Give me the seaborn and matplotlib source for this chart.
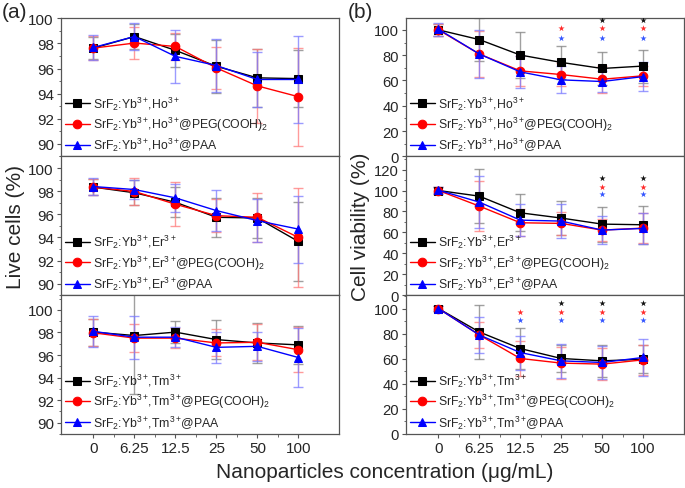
import numpy as np
import pandas as pd
import matplotlib
matplotlib.use("Agg")
import matplotlib.pyplot as plt
import seaborn as sns
from matplotlib.ticker import MultipleLocator, FixedLocator

# ---------------- data ----------------
conc_labels = ['0', '6.25', '12.5', '25', '50', '100']

# Panel (a): live cells (%)
a_ho_bare = [97.63, 98.55, 97.45, 96.18, 95.26, 95.20]
a_ho_bare_err = [0.9, 1.0, 1.3, 2.1, 2.3, 2.3]
a_ho_peg = [97.63, 98.03, 97.76, 96.05, 94.62, 93.76]
a_ho_peg_err = [0.95, 1.27, 1.1, 1.65, 2.95, 3.9]
a_ho_paa = [97.68, 98.55, 96.97, 96.24, 95.13, 95.13]
a_ho_paa_err = [1.0, 1.05, 2.1, 2.1, 2.2, 3.45]

a_er_bare = [98.35, 97.86, 97.04, 95.74, 95.68, 93.65]
a_er_bare_err = [0.7, 1.1, 1.3, 1.7, 1.75, 3.45]
a_er_peg = [98.35, 97.97, 96.87, 95.88, 95.74, 94.00]
a_er_peg_err = [0.7, 1.2, 1.9, 1.45, 2.1, 4.3]
a_er_paa = [98.40, 98.14, 97.42, 96.32, 95.45, 94.72]
a_er_paa_err = [0.7, 0.8, 1.2, 1.75, 1.85, 2.9]

a_tm_bare = [98.03, 97.73, 98.03, 97.37, 97.07, 96.90]
a_tm_bare_err = [1.2, 5.2, 1.0, 1.7, 1.77, 1.7]
a_tm_peg = [97.97, 97.50, 97.50, 97.07, 97.13, 96.47]
a_tm_peg_err = [1.2, 1.25, 0.9, 1.2, 1.58, 2.0]
a_tm_paa = [98.10, 97.58, 97.58, 96.68, 96.77, 95.78]
a_tm_paa_err = [1.38, 1.9, 0.9, 1.35, 1.3, 2.6]

# Panel (b): cell viability (%)
b_ho_bare = [100.0, 92.3, 80.1, 74.3, 69.5, 71.4]
b_ho_bare_err = [5, 17, 18, 13.2, 12.7, 13]
b_ho_peg = [100.0, 80.9, 67.6, 64.7, 61.0, 63.7]
b_ho_peg_err = [4.5, 18, 12, 9, 10.6, 8]
b_ho_paa = [100.5, 80.9, 66.8, 60.5, 59.2, 63.1]
b_ho_paa_err = [5, 19, 12.4, 10.6, 8, 11.4]

b_er_bare = [100.0, 94.6, 78.7, 73.7, 67.9, 67.3]
b_er_bare_err = [3, 26, 17.5, 16.5, 16.7, 18]
b_er_peg = [100.0, 85.1, 69.2, 68.6, 62.2, 64.1]
b_er_peg_err = [3, 23.5, 13, 11, 10.8, 14]
b_er_paa = [100.3, 88.9, 71.7, 70.8, 62.2, 63.8]
b_er_paa_err = [3, 24.5, 15, 16.3, 13.4, 15]

b_tm_bare = [100.0, 81.3, 68.1, 60.2, 58.3, 59.6]
b_tm_bare_err = [2, 21.3, 16, 10.5, 12.8, 11]
b_tm_peg = [100.0, 78.9, 60.2, 56.5, 55.7, 59.1]
b_tm_peg_err = [2, 10, 14, 13, 13, 12]
b_tm_paa = [100.0, 78.9, 64.9, 58.3, 57.0, 61.0]
b_tm_paa_err = [2, 14, 13.5, 13.5, 13.3, 14.5]

# significance stars (category indices)
ho_star_bare = [4, 5]
ho_star_peg = [3, 4, 5]
ho_star_paa = [3, 4, 5]
er_star_bare = [4, 5]
er_star_peg = [4, 5]
er_star_paa = [4, 5]
tm_star_bare = [3, 4, 5]
tm_star_peg = [2, 3, 4, 5]
tm_star_paa = [2, 3, 4, 5]

ions = ['Ho', 'Er', 'Tm']

# ---------------- style ----------------
sns.set_style('ticks')
plt.rcParams['font.family'] = ['Liberation Sans', 'DejaVu Sans']
plt.rcParams['mathtext.default'] = 'regular'
plt.rcParams['axes.edgecolor'] = '#555555'
plt.rcParams['axes.linewidth'] = 0.9

fig = plt.figure(figsize=(6.85, 4.89), dpi=100)

x = np.arange(len(conc_labels))
colors = ['#000000', '#ff0000', '#0000ff']
err_colors = ['#808080', '#ff7a7a', '#7a7aff']
markers = ['s', 'o', '^']

top, bottom = 1 - 18.7 / 489, 1 - 435 / 489
h = (top - bottom) / 3
left_a, width_a = 60.7 / 685, (339.3 - 60.7) / 685
left_b, width_b = 405.7 / 685, (684 - 405.7) / 685

panel_a = [
    (a_ho_bare, a_ho_bare_err, a_ho_peg, a_ho_peg_err, a_ho_paa, a_ho_paa_err),
    (a_er_bare, a_er_bare_err, a_er_peg, a_er_peg_err, a_er_paa, a_er_paa_err),
    (a_tm_bare, a_tm_bare_err, a_tm_peg, a_tm_peg_err, a_tm_paa, a_tm_paa_err),
]
panel_b = [
    (b_ho_bare, b_ho_bare_err, b_ho_peg, b_ho_peg_err, b_ho_paa, b_ho_paa_err),
    (b_er_bare, b_er_bare_err, b_er_peg, b_er_peg_err, b_er_paa, b_er_paa_err),
    (b_tm_bare, b_tm_bare_err, b_tm_peg, b_tm_peg_err, b_tm_paa, b_tm_paa_err),
]
stars = [
    (ho_star_bare, ho_star_peg, ho_star_paa),
    (er_star_bare, er_star_peg, er_star_paa),
    (tm_star_bare, tm_star_peg, tm_star_paa),
]
star_y = [(107.4, 101.3, 93.6), (112, 103.5, 96.2), (104.8, 97.3, 90.7)]
ylims_a = [(89, 100.05), (89, 101.0), (89, 101.3)]
ylims_b = [(0, 109.6), (0, 132.5), (0, 110.6)]
star_colors = ['#111111', '#ff2a2a', '#3355ff']


def labels_for(ion):
    base = r'SrF$_2$:Yb$^{3+}\!$,' + ion + r'$^{3+}\!$'
    return [base, base + r'@PEG(COOH)$_2$', base + '@PAA']


def draw(ax, series, ion, ylim, tick_size):
    vals = [series[0], series[2], series[4]]
    errs = [series[1], series[3], series[5]]
    labs = labels_for(ion)
    for v, e, c, ec in zip(vals, errs, colors, err_colors):
        ax.errorbar(x, v, yerr=e, fmt='none', ecolor=ec, elinewidth=1.0,
                    capsize=3.5, capthick=1.0, alpha=0.75, zorder=1)
    for v, c, m, lab in zip(vals, colors, markers, labs):
        df = pd.DataFrame({'x': x, 'y': v})
        sns.lineplot(data=df, x='x', y='y', ax=ax, color=c, marker=m,
                     markersize=6.2, markeredgecolor=c, linewidth=1.0,
                     label=lab, zorder=3)
    ax.set_xlim(-0.8, 6.0)
    ax.set_ylim(*ylim)
    ax.set_xlabel('')
    ax.set_ylabel('')
    ax.legend(loc='lower left', bbox_to_anchor=(-0.01, -0.03),
              frameon=False, fontsize=8.8, handlelength=2.0,
              handletextpad=0.3, labelspacing=0.25, borderaxespad=0.2)
    ax.xaxis.set_major_locator(FixedLocator(x))
    ax.xaxis.set_minor_locator(FixedLocator(x[:-1] + 0.5))
    ax.tick_params(axis='both', which='major', labelsize=tick_size, length=3,
                   width=0.8, color='#555555', pad=2)
    ax.tick_params(axis='x', which='major', labelsize=11)
    ax.tick_params(axis='both', which='minor', length=1.8, width=0.6,
                   color='#555555')


axes_a, axes_b = [], []
for i in range(3):
    ax = fig.add_axes([left_a, top - (i + 1) * h, width_a, h])
    draw(ax, panel_a[i], ions[i], ylims_a[i], 11)
    ax.yaxis.set_major_locator(MultipleLocator(2))
    ax.yaxis.set_minor_locator(MultipleLocator(1))
    axes_a.append(ax)

    axb = fig.add_axes([left_b, top - (i + 1) * h, width_b, h])
    draw(axb, panel_b[i], ions[i], ylims_b[i], 10.6)
    axb.yaxis.set_major_locator(MultipleLocator(20))
    axb.yaxis.set_minor_locator(MultipleLocator(10))
    for idxs, sy, sc in zip(stars[i], star_y[i], star_colors):
        axb.scatter(idxs, [sy] * len(idxs), marker='*', s=22, color=sc,
                    linewidths=0, zorder=4)
    axes_b.append(axb)

for ax in axes_a[:2] + axes_b[:2]:
    ax.tick_params(axis='x', which='both', labelbottom=False, length=0)
for ax in axes_a + axes_b:
    for s in ax.spines.values():
        s.set_visible(True)
for ax in axes_a[2:] + axes_b[2:]:
    ax.set_xticklabels(conc_labels)

fig.text(16 / 685, (top + bottom) / 2, 'Live cells (%)', rotation=90,
         ha='center', va='center', fontsize=15)
fig.text(360 / 685, (top + bottom) / 2, 'Cell viability (%)', rotation=90,
         ha='center', va='center', fontsize=15)
fig.text(385 / 685, 1 - 472 / 489, 'Nanoparticles concentration (\u03bcg/mL)',
         ha='center', va='center', fontsize=15)
fig.text(0.003, 1 - 12 / 489, '(a)', ha='left', va='center', fontsize=15)
fig.text(0.508, 1 - 12 / 489, '(b)', ha='left', va='center', fontsize=15)

fig.savefig('out.png', dpi=100)
